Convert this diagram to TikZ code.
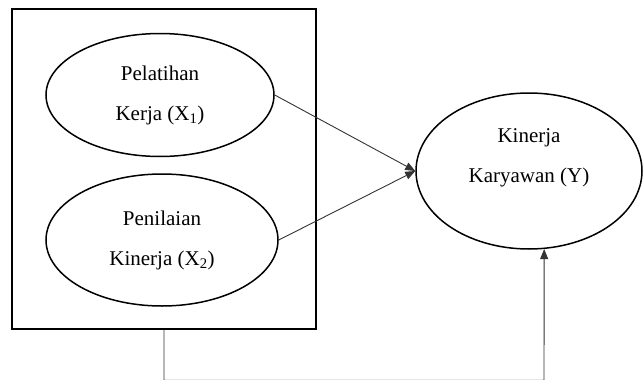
\documentclass[tikz,border=0pt]{standalone}
\usepackage{fontspec}
\setmainfont{Liberation Serif}
\usetikzlibrary{shapes.geometric,arrows.meta}
\tikzset{
  ell/.style={ellipse, draw=black, line width=1.5pt, inner sep=0pt, align=center,
    font=\fontsize{21}{40}\selectfont},
  txt/.style={align=center, inner sep=0pt, font=\fontsize{21}{40}\selectfont},
  conn/.style={draw=black!80, line width=0.9pt, -{Triangle[length=10pt,width=8pt]}},
  framebox/.style={draw=black, line width=1.8pt, inner sep=0pt}
}
\begin{document}
\begin{tikzpicture}[x=1pt,y=-1pt]
\useasboundingbox (0,0) rectangle (643,380);
\node[framebox, minimum width=304pt, minimum height=320pt] (box) at (164,169) {};
\node[ell, minimum width=228pt, minimum height=123pt] (e1) at (160,95)
  {Pelatihan\\Kerja (X\textsubscript{1})};
\node[ell, minimum width=232pt, minimum height=132pt] (e2) at (162,240)
  {Penilaian\\Kinerja (X\textsubscript{2})};
\node[ell, minimum width=226pt, minimum height=156pt] (y) at (529,171) {};
\node[txt] (ytext) at (529,158) {Kinerja\\Karyawan (Y)};
\coordinate (c) at (544,380.2);
\draw[conn] (e1.east) -- (y.west);
\draw[conn] (e2.east) -- (y.west);
\draw[conn] (box.south) |- (c) -- (y.-79);
\end{tikzpicture}
\end{document}
